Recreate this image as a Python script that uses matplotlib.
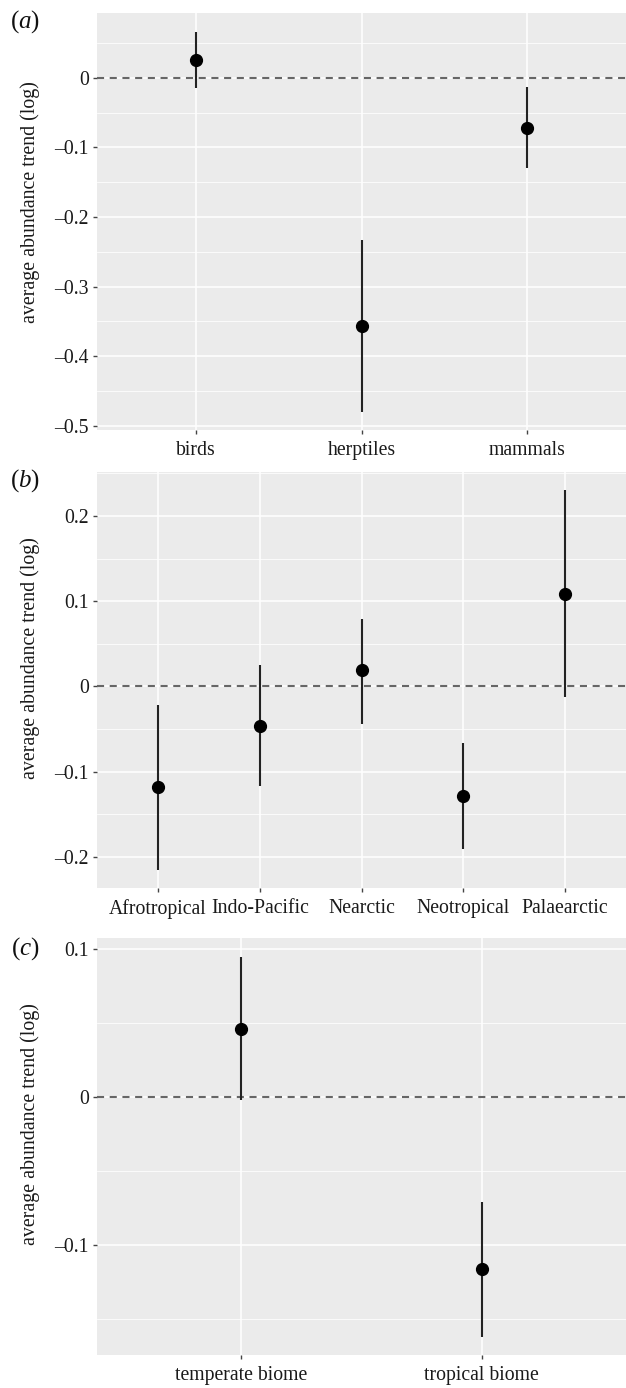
import matplotlib
matplotlib.use("Agg")
import matplotlib.pyplot as plt
from matplotlib.ticker import FixedLocator

plt.rcParams['font.family'] = ['Liberation Serif', 'DejaVu Serif']
plt.rcParams['mathtext.fontset'] = 'custom'
plt.rcParams['mathtext.rm'] = 'Liberation Serif'
plt.rcParams['mathtext.it'] = 'Liberation Serif:italic'

# Panel (a): taxa
cats_a = ["birds", "herptiles", "mammals"]
est_a = [0.025, -0.356, -0.072]
lo_a = [-0.015, -0.480, -0.130]
hi_a = [0.065, -0.233, -0.014]
yticks_a = [0, -0.1, -0.2, -0.3, -0.4, -0.5]
ylim_a = (-0.506, 0.0925)

# Panel (b): realms
cats_b = ["Afrotropical", "Indo-Pacific", "Nearctic", "Neotropical", "Palaearctic"]
est_b = [-0.118, -0.046, 0.019, -0.129, 0.109]
lo_b = [-0.215, -0.117, -0.044, -0.191, -0.0125]
hi_b = [-0.0215, 0.025, 0.079, -0.066, 0.230]
yticks_b = [0.2, 0.1, 0, -0.1, -0.2]
ylim_b = (-0.237, 0.252)

# Panel (c): biomes
cats_c = ["temperate biome", "tropical biome"]
est_c = [0.046, -0.116]
lo_c = [-0.002, -0.162]
hi_c = [0.095, -0.071]
yticks_c = [0.1, 0, -0.1]
ylim_c = (-0.174, 0.1074)

ylabel = "average abundance trend (log)"
panel_letters = ["a", "b", "c"]


def fmt(v):
    if abs(v) < 1e-12:
        return "0"
    s = f"{abs(v):.1f}"
    return ("\u2013" + s) if v < 0 else s


fig = plt.figure(figsize=(6.26, 13.88), dpi=100)
W, H = 626, 1388

panels = [
    (cats_a, est_a, lo_a, hi_a, yticks_a, ylim_a, (13.3, 430), 202, 22),
    (cats_b, est_b, lo_b, hi_b, yticks_b, ylim_b, (471.7, 888.3), 658, 481),
    (cats_c, est_c, lo_c, hi_c, yticks_c, ylim_c, (938.3, 1355), 1124, 949),
]

left_px, right_px = 97, 626
for letter, (cats, est, lo, hi, yt, ylim, (top_px, bot_px), lab_y, let_y) in zip(panel_letters, panels):
    ax = fig.add_axes([left_px / W, 1 - bot_px / H,
                       (right_px - left_px) / W, (bot_px - top_px) / H])
    ax.set_facecolor("#EBEBEB")
    for s in ax.spines.values():
        s.set_visible(False)
    n = len(cats)
    x = list(range(1, n + 1))
    ax.set_xlim(0.4, n + 0.6)
    ax.set_ylim(*ylim)
    ax.set_xticks(x)
    ax.set_xticklabels(cats)
    ax.set_yticks(yt)
    ax.set_yticklabels([fmt(v) for v in yt])
    minors = [(yt[i] + yt[i + 1]) / 2 for i in range(len(yt) - 1)]
    step = abs(yt[0] - yt[1])
    ext = [min(yt) - step / 2, max(yt) + step / 2]
    minors += [m for m in ext if ylim[0] <= m <= ylim[1]]
    ax.yaxis.set_minor_locator(FixedLocator(minors))
    ax.grid(which="major", color="white", linewidth=1.1, zorder=0)
    ax.grid(which="minor", axis="y", color="white", linewidth=0.55, zorder=0)
    ax.set_axisbelow(True)
    ax.tick_params(axis="both", which="major", length=3, width=1,
                   color="#444444", labelsize=14.2, labelcolor="#1a1a1a", pad=3)
    ax.tick_params(axis="y", which="minor", length=0)
    ax.tick_params(axis="x", pad=5)
    ax.axhline(0, color="#666666", linestyle=(0, (3.4, 2.7)), linewidth=1.5, zorder=2)
    ax.vlines(x, lo, hi, color="#222222", linewidth=1.5, zorder=3)
    ax.plot(x, est, "o", color="black", markersize=8.5, zorder=4)
    ax.set_ylabel(ylabel, fontsize=14.3, color="#1a1a1a")
    ax.yaxis.set_label_coords((40 - left_px) / (right_px - left_px),
                              (bot_px - lab_y) / (bot_px - top_px))
    fig.text(25 / W, 1 - let_y / H, "($\\mathit{" + letter + "}$)",
             fontsize=18, va="center", ha="center", color="#111111")

fig.savefig("out.png", dpi=100)
